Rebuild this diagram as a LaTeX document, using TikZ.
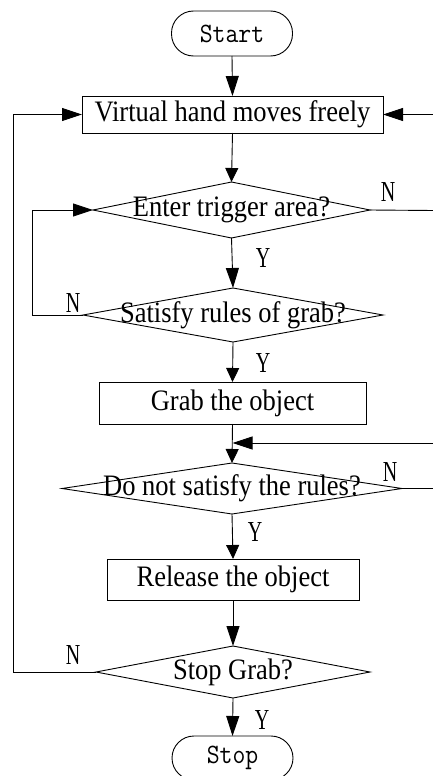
\documentclass[tikz,border=0pt]{standalone}
\usepackage{graphicx}
\usepackage{fontspec}
\setmainfont{Liberation Serif}
\usetikzlibrary{shapes.geometric,arrows.meta}
\newcommand\mtxt[1]{\scalebox{1}[1.12]{\fontsize{26.5}{27}\selectfont #1}}
\newcommand\ttxt[1]{\scalebox{1}[1.12]{\ttfamily\fontsize{25}{25}\selectfont #1}}
\newcommand\ltxt[1]{\scalebox{1}[1.45]{\fontsize{20}{20}\selectfont #1}}
\begin{document}
\begin{tikzpicture}[x=1pt,y=-1pt,line width=0.9pt,
  proc/.style={draw,rectangle,inner sep=0pt,outer sep=0pt},
  term/.style={draw,rectangle,rounded corners=22pt,inner sep=0pt,outer sep=0pt,minimum width=121pt},
  dec/.style={draw,diamond,inner sep=0pt,outer sep=0pt},
  arr/.style={-{Triangle[length=20pt,width=13pt]}},
  sarr/.style={-{Triangle[length=14pt,width=13pt]}},
  lbl/.style={inner sep=0pt}]
\useasboundingbox (0,0) rectangle (433,776);
% nodes
\node[term,minimum height=45pt] (start) at (232,33.5) {\ttxt{Start}};
\node[proc,minimum width=301pt,minimum height=37pt] (box1) at (232.5,114.5) {\mtxt{Virtual hand moves freely}};
\node[dec,minimum width=277pt,minimum height=56pt,label={[lbl,name=d1t]center:\mtxt{Enter trigger area?}}] (d1) at (231.5,210) {};
\node[dec,minimum width=300pt,minimum height=54pt,label={[lbl,name=d2t]center:\mtxt{Satisfy rules of grab?}}] (d2) at (233,315) {};
\node[proc,minimum width=267pt,minimum height=42pt] (grab) at (232.5,403) {\mtxt{Grab the object}};
\node[dec,minimum width=340pt,minimum height=51pt,label={[lbl,name=d3t]center:\mtxt{Do not satisfy the rules?}}] (d3) at (232,488.5) {};
\node[proc,minimum width=252pt,minimum height=41pt] (release) at (233,579.5) {\mtxt{Release the object}};
\node[dec,minimum width=274pt,minimum height=52pt,label={[lbl,name=d4t]center:\mtxt{Stop Grab?}}] (d4) at (233,672) {};
\node[term,minimum height=44pt] (stop) at (232.5,758) {\ttxt{Stop}};
% helper coordinates
\coordinate (l1) at (13,0);
\coordinate (l2) at (32,0);
\coordinate (r1) at (434,114.5);
\coordinate (r2) at (434,210.5);
\coordinate (r3) at (434,443);
\coordinate (r4) at (434,488.5);
% main flow
\draw[arr] (start.south) -- (box1.north);
\draw[sarr] (box1.south) -- (d1.north);
\draw[arr] (d1.south) -- (d2.north);
\draw[sarr] (d2.south) -- (grab.north);
\draw[sarr] (grab.south) -- (d3.north);
\draw[sarr] (d3.south) -- (release.north);
\draw[arr] (release.south) -- (d4.north);
\draw[arr] (d4.south) -- (stop.north);
% loops
\draw[arr] (d4.west) -- (d4.west -| l1) |- (box1.west);
\draw[arr] (d2.west) -- (d2.west -| l2) |- (d1.west);
\draw (d1.east) -- (r2);
\draw[arr] (r1) -- (box1.east);
\draw[arr] (r3) -- (grab.south |- r3);
\draw (d3.east) -- (r4);
% labels
\node[lbl] (y1) at (263,258) {\ltxt{Y}};
\node[lbl] (y2) at (263,363) {\ltxt{Y}};
\node[lbl] (y3) at (255,532) {\ltxt{Y}};
\node[lbl] (y4) at (262,720) {\ltxt{Y}};
\node[lbl] (n1) at (388,192) {\ltxt{N}};
\node[lbl] (n2) at (73,303) {\ltxt{N}};
\node[lbl] (n3) at (390,472) {\ltxt{N}};
\node[lbl] (n4) at (73,655) {\ltxt{N}};
\end{tikzpicture}
\end{document}
